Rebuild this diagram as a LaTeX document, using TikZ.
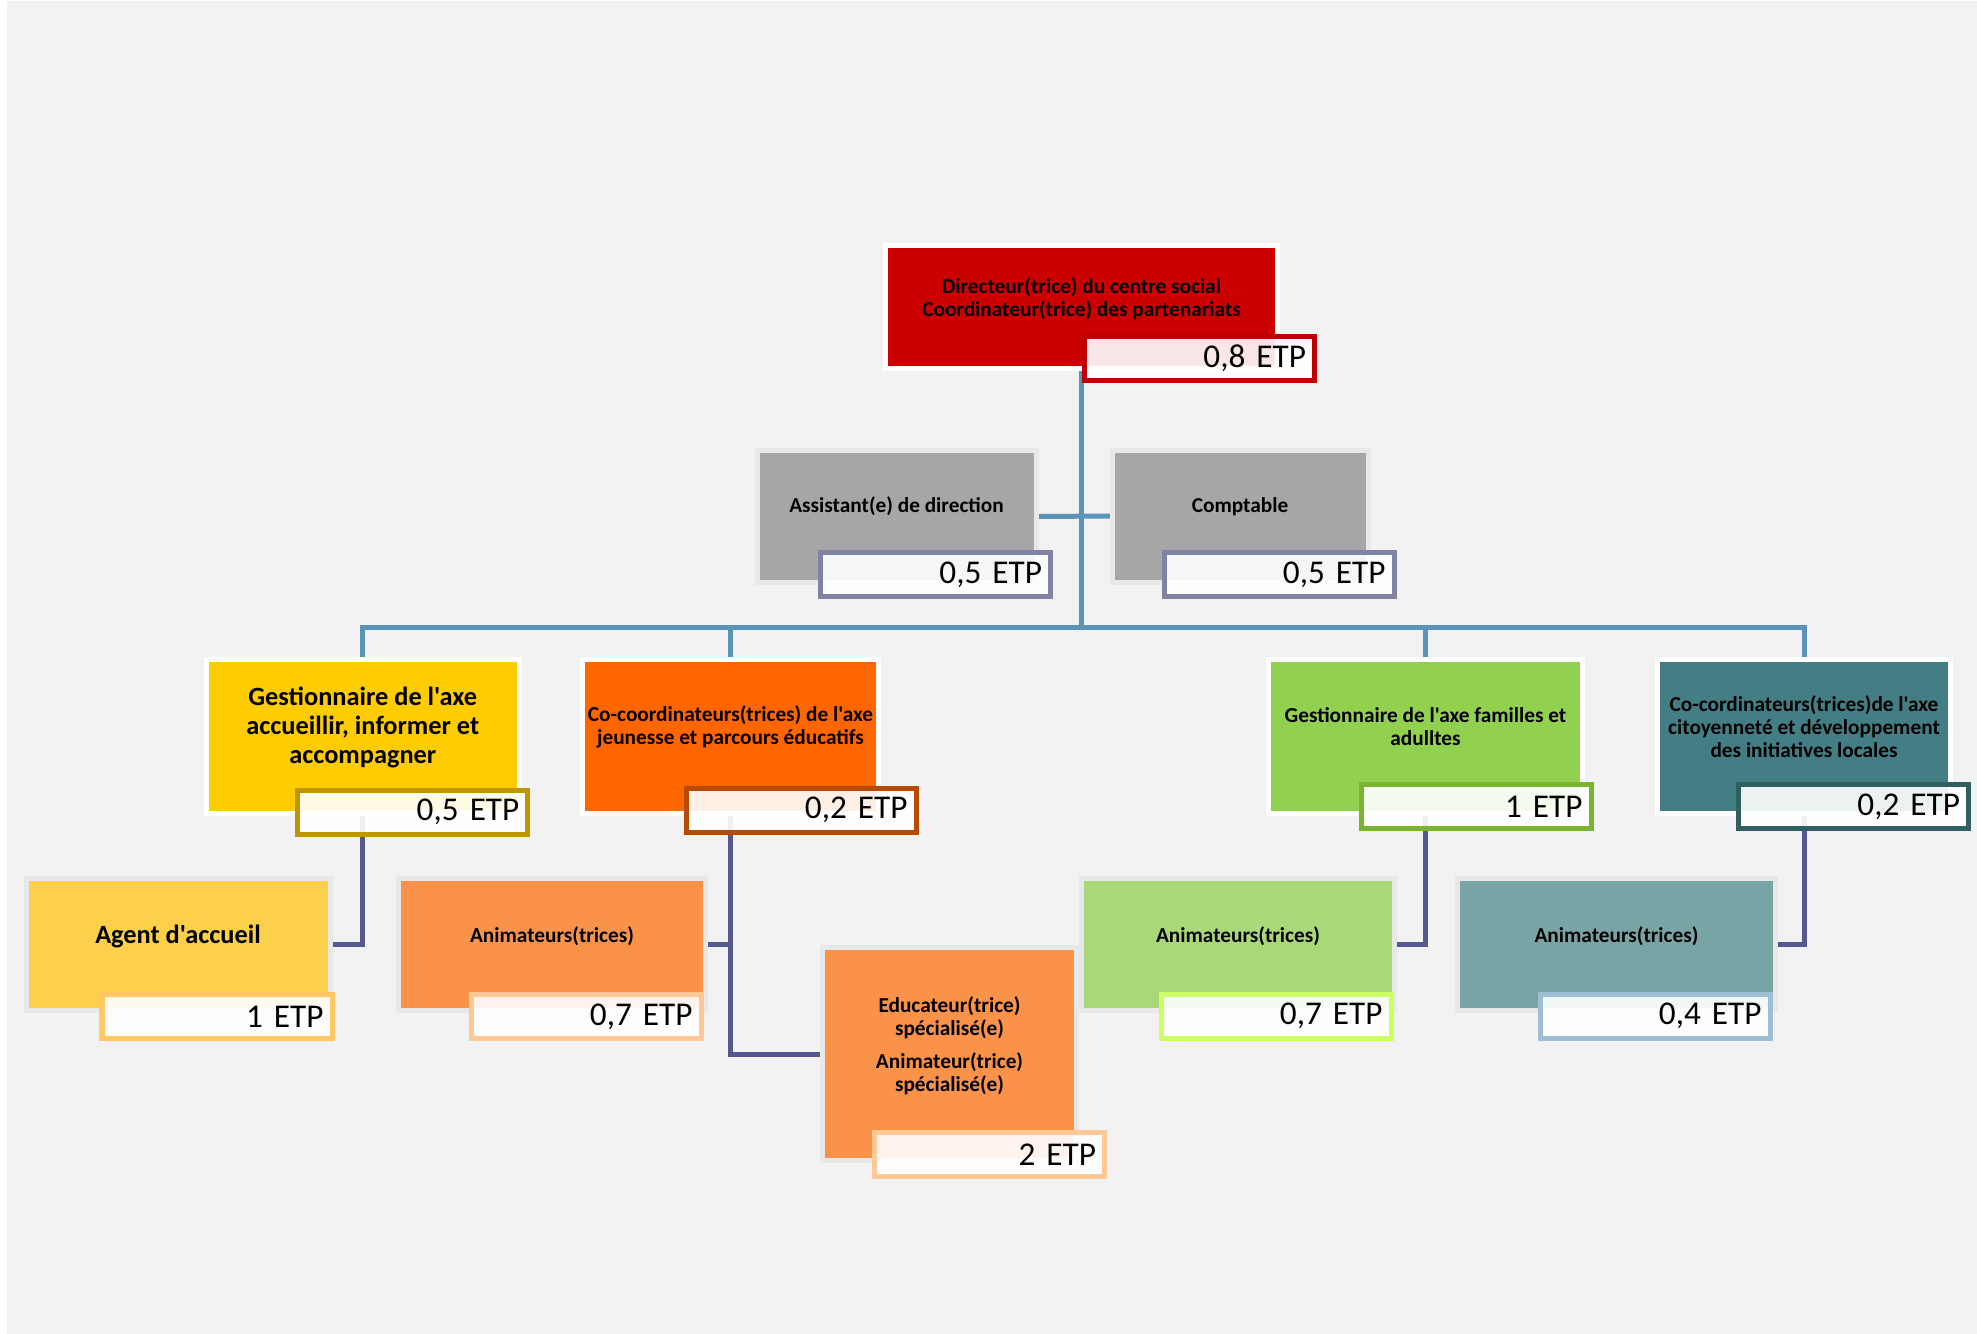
\documentclass[tikz,border=0pt]{standalone}
\usepackage{fontspec}
\setmainfont{Carlito}[Ligatures=TeXOff]
\usetikzlibrary{positioning,backgrounds}
\definecolor{PageGray}{RGB}{242,242,242}
\definecolor{SubFrame}{RGB}{232,232,232}
\definecolor{DirRed}{RGB}{204,0,0}
\definecolor{DirRedLine}{RGB}{192,0,0}
\definecolor{AsstGray}{RGB}{166,166,166}
\definecolor{AsstLine}{RGB}{130,130,162}
\definecolor{AxeYellow}{RGB}{255,204,0}
\definecolor{AxeYellowLine}{RGB}{191,150,0}
\definecolor{AxeOrange}{RGB}{255,102,0}
\definecolor{AxeOrangeLine}{RGB}{184,74,0}
\definecolor{AxeGreen}{RGB}{146,208,80}
\definecolor{AxeGreenLine}{RGB}{122,181,50}
\definecolor{AxeTeal}{RGB}{66,126,131}
\definecolor{AxeTealLine}{RGB}{49,94,97}
\definecolor{AgentYellow}{RGB}{252,208,75}
\definecolor{AgentYellowLine}{RGB}{255,200,100}
\definecolor{AnimOrange}{RGB}{251,146,74}
\definecolor{AnimOrangeLine}{RGB}{255,200,150}
\definecolor{AnimGreen}{RGB}{168,216,120}
\definecolor{AnimGreenLine}{RGB}{204,255,102}
\definecolor{AnimTeal}{RGB}{120,164,166}
\definecolor{AnimTealLine}{RGB}{158,190,212}
\definecolor{LineBlue}{RGB}{90,148,185}
\definecolor{LineNavy}{RGB}{85,88,140}
\newcommand{\lblfont}{\fontsize{6.06pt}{6.54pt}\selectfont\bfseries}
\newcommand{\biglblfont}{\fontsize{7.5pt}{8.14pt}\selectfont\bfseries}
\newcommand{\etpfont}{\fontsize{9.45pt}{11pt}\selectfont}

\begin{document}
\begin{tikzpicture}[
    topbox/.style={
        draw=white,
        line width=0.05cm,
        inner sep=0pt
    },
    subbox/.style={
        draw=SubFrame,
        line width=0.05cm,
        inner sep=0pt
    },
    etp/.style={
        draw,
        line width=0.05cm,
        fill=white,
        fill opacity=0.9,
        text opacity=1,
        inner xsep=0.085cm,
        inner ysep=0pt,
        text width=2.13cm,
        align=right,
        minimum height=0.44cm,
        font=\etpfont
    },
    lbl/.style={
        align=center,
        inner sep=0pt,
        font=\lblfont
    },
    biglbl/.style={
        align=center,
        inner sep=0pt,
        font=\biglblfont
    },
    topline/.style={
        draw=LineBlue,
        line width=0.05cm
    },
    lowline/.style={
        draw=LineNavy,
        line width=0.05cm
    }
]

\useasboundingbox (0,0) rectangle (19.77,-13.34);
\begin{scope}[on background layer]
\fill[PageGray] (0.07,-0.01) rectangle (19.77,-13.34);
\end{scope}

% =========================
% Direction
% =========================
\node[topbox, fill=DirRed, minimum width=3.92cm, minimum height=1.23cm] (dir) at (10.815,-3.07) {};
\node[lbl] (dirT) at (10.815,-2.985) {Directeur(trice) du centre social\\Coordinateur(trice) des partenariats};
\node[etp, draw=DirRedLine] (dirE) at (11.995,-3.585) {0,8 ETP};

\node[subbox, fill=AsstGray, minimum width=2.79cm, minimum height=1.32cm] (asst) at (8.97,-5.165) {};
\node[lbl] (asstT) at (8.965,-5.067) {Assistant(e) de direction};
\node[etp, draw=AsstLine] (asstE) at (9.355,-5.745) {0,5 ETP};

\node[subbox, fill=AsstGray, minimum width=2.56cm, minimum height=1.32cm] (compta) at (12.405,-5.16) {};
\node[lbl] (comptaT) at (12.40,-5.067) {Comptable};
\node[etp, draw=AsstLine] (comptaE) at (12.79,-5.745) {0,5 ETP};

\coordinate (bus) at (10.82,-6.277);

% =========================
% Axes
% =========================
\node[topbox, fill=AxeYellow, minimum width=3.126cm, minimum height=1.54cm] (axeA) at (3.628,-7.365) {};
\node[biglbl] (axeAT) at (3.628,-7.275) {Gestionnaire de l'axe\\accueillir, informer et\\accompagner};
\node[etp, draw=AxeYellowLine] (axeAE) at (4.128,-8.12) {0,5 ETP};

\node[topbox, fill=AxeOrange, minimum width=2.96cm, minimum height=1.54cm] (axeJ) at (7.305,-7.365) {};
\node[lbl] (axeJT) at (7.305,-7.27) {Co-coordinateurs(trices) de l'axe\\jeunesse et parcours éducatifs};
\node[etp, draw=AxeOrangeLine] (axeJE) at (8.01,-8.103) {0,2 ETP};

\node[topbox, fill=AxeGreen, minimum width=3.14cm, minimum height=1.54cm] (axeF) at (14.255,-7.36) {};
\node[lbl] (axeFT) at (14.255,-7.27) {Gestionnaire de l'axe familles et\\adulltes};
\node[etp, draw=AxeGreenLine] (axeFE) at (14.76,-8.065) {1 ETP};

\node[topbox, fill=AxeTeal, minimum width=2.93cm, minimum height=1.54cm] (axeC) at (18.04,-7.36) {};
\node[lbl] (axeCT) at (18.04,-7.27) {Co-cordinateurs(trices)de l'axe\\citoyenneté et développement\\des initiatives locales};
\node[etp, draw=AxeTealLine] (axeCE) at (18.535,-8.065) {0,2 ETP};

% =========================
% Teams
% =========================
\node[subbox, fill=AgentYellow, minimum width=3.04cm, minimum height=1.32cm] (agent) at (1.785,-9.445) {};
\node[biglbl] (agentT) at (1.78,-9.364) {Agent d'accueil};
\node[etp, draw=AgentYellowLine] (agentE) at (2.17,-10.166) {1 ETP};

\node[subbox, fill=AnimOrange, minimum width=3.07cm, minimum height=1.32cm] (animJ) at (5.52,-9.445) {};
\node[lbl] (animJT) at (5.52,-9.36) {Animateurs(trices)};
\node[etp, draw=AnimOrangeLine] (animJE) at (5.86,-10.166) {0,7 ETP};

\node[subbox, fill=AnimOrange, minimum width=2.54cm, minimum height=2.13cm] (educ) at (9.495,-10.54) {};
\node[lbl] (educT) at (9.495,-10.455) {Educateur(trice)\\spécialisé(e)\\[0.1cm]Animateur(trice)\\spécialisé(e)};
\node[etp, draw=AnimOrangeLine] (educE) at (9.895,-11.545) {2 ETP};

\node[subbox, fill=AnimGreen, minimum width=3.13cm, minimum height=1.32cm] (animF) at (12.38,-9.445) {};
\node[lbl] (animFT) at (12.38,-9.36) {Animateurs(trices)};
\node[etp, draw=AnimGreenLine] (animFE) at (12.76,-10.16) {0,7 ETP};

\node[subbox, fill=AnimTeal, minimum width=3.18cm, minimum height=1.32cm] (animC) at (16.165,-9.445) {};
\node[lbl] (animCT) at (16.165,-9.36) {Animateurs(trices)};
\node[etp, draw=AnimTealLine] (animCE) at (16.55,-10.16) {0,4 ETP};

% =========================
% Connectors
% =========================
\begin{scope}[on background layer]
\draw[topline] (dir.south) -- (dir.south |- bus);
\draw[topline] (asst.east) -- (compta.west);
\draw[topline] (axeA.north) -- (axeA.north |- bus) -- (axeC.north |- bus) -- (axeC.north);
\draw[topline] (axeJ.north) -- (axeJ.north |- bus);
\draw[topline] (axeF.north) -- (axeF.north |- bus);

\draw[lowline] (axeA.south) |- (agent.east);
\draw[lowline] (axeJ.south) |- (educ.west);
\draw[lowline] (animJ.east) -- (animJ.east -| axeJ.south);
\draw[lowline] (axeF.south) |- (animF.east);
\draw[lowline] (axeC.south) |- (animC.east);
\end{scope}

\end{tikzpicture}
\end{document}
